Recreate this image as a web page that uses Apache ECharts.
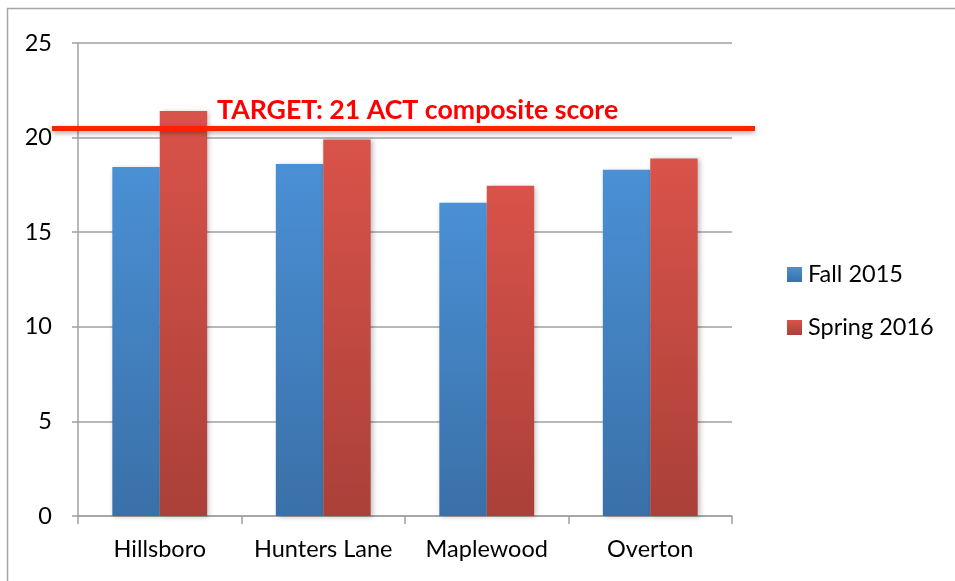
<!DOCTYPE html>
<html>
<head>
<meta charset="utf-8">
<script src="https://cdn.jsdelivr.net/npm/echarts@6/dist/echarts.min.js"></script>
<style>
  html, body { margin: 0; padding: 0; background: #fff; }
  #act-chart { width: 955px; height: 581px; }
</style>
</head>
<body>
<div id="act-chart"></div>
<script>
var schools = ['Hillsboro', 'Hunters Lane', 'Maplewood', 'Overton'];
var fall2015 = [18.45, 18.6, 16.55, 18.3];
var spring2016 = [21.4, 19.9, 17.45, 18.9];
var yTicks = [0, 5, 10, 15, 20, 25];
var targetScore = 20.5;
var targetText = 'TARGET: 21 ACT composite score';

var act_chartDom = document.getElementById('act-chart');
var act_myChart = echarts.init(act_chartDom);
var act_option;

var fontFam = 'Lato, "Open Sans", sans-serif';

function grad(top, bottom) {
  return new echarts.graphic.LinearGradient(0, 0, 0, 1, [
    { offset: 0, color: top },
    { offset: 1, color: bottom }
  ]);
}

act_option = {
  backgroundColor: '#fff',
  animation: false,
  grid: {
    left: 78,
    right: 223,
    top: 43,
    bottom: 65
  },
  legend: {
    orient: 'vertical',
    left: 782,
    top: 257,
    itemWidth: 15,
    itemHeight: 15,
    itemGap: 28,
    icon: 'rect',
    textStyle: { fontSize: 23.5, lineHeight: 25, color: '#000', fontFamily: fontFam, padding: [0, 0, 0, 1] },
    data: ['Fall 2015', 'Spring 2016']
  },
  graphic: [
    {
      type: 'rect',
      shape: { x: 7.5, y: 8.5, width: 1100, height: 700 },
      style: { fill: 'none', stroke: '#a6a6a6', lineWidth: 1.5 },
      z: -1
    },
    {
      type: 'text',
      left: 217,
      top: 97,
      style: {
        text: targetText,
        fill: '#ff0000',
        font: 'bold 26.7px ' + fontFam
      },
      z: 10
    }
  ],
  xAxis: {
    type: 'category',
    data: schools,
    axisLine: { lineStyle: { color: '#a0a0a0', width: 1.5 } },
    axisTick: { show: true, interval: 0, length: 8, lineStyle: { color: '#a0a0a0', width: 1.5 } },
    axisLabel: { interval: 0, color: '#000', fontSize: 23.5, fontFamily: fontFam, margin: 21 }
  },
  yAxis: {
    type: 'value',
    min: 0,
    max: 25,
    interval: 5,
    axisLine: { show: true, lineStyle: { color: '#a0a0a0', width: 1.5 } },
    axisTick: { show: true, length: 6, lineStyle: { color: '#a0a0a0', width: 1.5 } },
    splitLine: { lineStyle: { color: '#a0a0a0', width: 1.5 } },
    axisLabel: {
      color: '#000',
      fontSize: 23.5,
      fontFamily: fontFam,
      margin: 26,
      formatter: function (v) { return yTicks.indexOf(v) >= 0 ? String(v) : ''; }
    }
  },
  series: [
    {
      name: 'Fall 2015',
      type: 'bar',
      data: fall2015,
      barGap: '0%',
      barCategoryGap: '42%',
      itemStyle: {
        color: grad('#4a90d5', '#3a70a8'),
        shadowBlur: 5,
        shadowOffsetX: 2,
        shadowOffsetY: 1,
        shadowColor: 'rgba(0,0,0,0.25)'
      }
    },
    {
      name: 'Spring 2016',
      type: 'bar',
      data: spring2016,
      itemStyle: {
        color: grad('#d9534a', '#aa4039'),
        shadowBlur: 5,
        shadowOffsetX: 2,
        shadowOffsetY: 1,
        shadowColor: 'rgba(0,0,0,0.25)'
      },
      markLine: {
        silent: true,
        symbol: 'none',
        label: { show: false },
        lineStyle: {
          color: '#ff2200',
          width: 5,
          type: 'solid',
          shadowBlur: 5,
          shadowOffsetY: 2,
          shadowColor: 'rgba(0,0,0,0.35)'
        },
        data: [
          [{ x: 52, yAxis: targetScore }, { x: 755, yAxis: targetScore }]
        ]
      }
    }
  ]
};

act_option && act_myChart.setOption(act_option);

window.addEventListener('resize', function() {
  act_myChart.resize();
});
</script>
</body>
</html>
